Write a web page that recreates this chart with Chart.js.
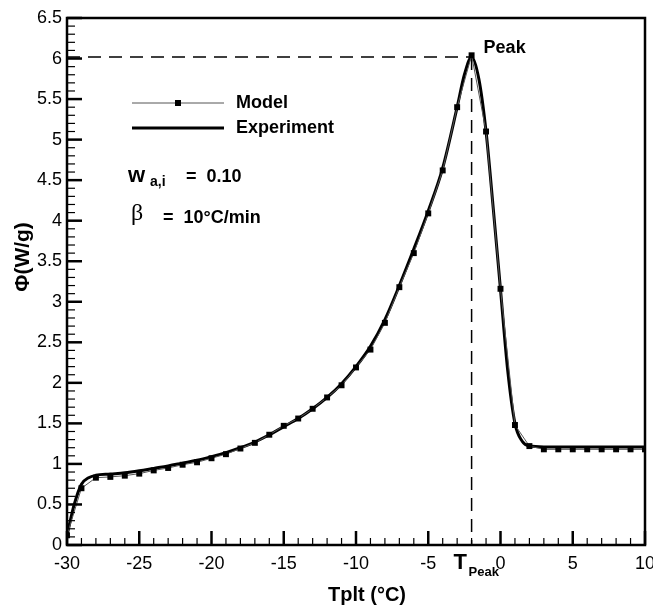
<!DOCTYPE html>
<html>
<head>
<meta charset="utf-8">
<script src="https://cdn.jsdelivr.net/npm/chart.js@4"></script>
<style>
  body { margin: 0; background: #fff; }
  #wrap { width: 653px; height: 606px; }
</style>
</head>
<body>
<div id="wrap"><canvas id="chart" width="653" height="606"></canvas></div>
<script>
// model points, one per degree (squares)
const modelT = [-30, -29, -28, -27, -26, -25, -24, -23, -22, -21, -20, -19, -18, -17, -16, -15, -14, -13, -12, -11, -10, -9, -8, -7, -6, -5, -4, -3, -2, -1, 0, 1, 2, 3, 4, 5, 6, 7, 8, 9, 10];
const modelPhi = [0.12, 0.70, 0.83, 0.84, 0.855, 0.88, 0.92, 0.95, 0.99, 1.02, 1.07, 1.12, 1.19, 1.26, 1.36, 1.47, 1.56, 1.68, 1.82, 1.97, 2.19, 2.41, 2.74, 3.18, 3.6, 4.09, 4.62, 5.40, 6.04, 5.10, 3.16, 1.48, 1.22, 1.18, 1.18, 1.18, 1.18, 1.18, 1.18, 1.18, 1.18];

// experiment curve
const expT = [-30, -29.5, -29, -28.5, -28, -27, -26, -25, -24, -23, -22, -21, -20, -19, -18, -17, -16, -15, -14, -13, -12, -11, -10, -9, -8, -7, -6, -5, -4, -3, -2.5, -2, -1.5, -1, -0.5, 0, 0.5, 1, 1.5, 2, 3, 4, 5, 6, 7, 8, 9, 10];
const expPhi = [0.12, 0.5, 0.75, 0.83, 0.86, 0.875, 0.89, 0.915, 0.945, 0.975, 1.01, 1.045, 1.09, 1.14, 1.2, 1.27, 1.36, 1.46, 1.56, 1.68, 1.82, 1.99, 2.2, 2.45, 2.78, 3.2, 3.65, 4.12, 4.65, 5.4, 5.8, 6.02, 5.75, 5.1, 4.15, 3.15, 2.15, 1.5, 1.28, 1.22, 1.21, 1.21, 1.21, 1.21, 1.21, 1.21, 1.21, 1.21];

const peakT = -2;
const peakPhi = 6.02;

const xTicks = [-30, -25, -20, -15, -10, -5, 0, 5, 10];
const yTicks = [0, 0.5, 1, 1.5, 2, 2.5, 3, 3.5, 4, 4.5, 5, 5.5, 6, 6.5];

const modelData = modelT.map((t, i) => ({x: t, y: modelPhi[i]}));
const expData = expT.map((t, i) => ({x: t, y: expPhi[i]}));

const FONT = '"Liberation Sans", Arial, Helvetica, sans-serif';

// inward ticks, frame and texts
const decor = {
  id: 'decor',
  afterDatasetsDraw(chart) {
    const c = chart.ctx;
    const a = chart.chartArea;
    const xs = chart.scales.x, ys = chart.scales.y;
    c.save();
    c.strokeStyle = '#000';
    // x ticks
    for (let t = -30; t <= 10; t++) {
      const px = xs.getPixelForValue(t);
      const major = xTicks.includes(t);
      c.lineWidth = major ? 2.5 : 1.2;
      c.beginPath();
      c.moveTo(px, a.bottom);
      c.lineTo(px, a.bottom - (major ? 14 : 7));
      c.stroke();
    }
    // y ticks
    for (let k = 0; k <= 65; k++) {
      const v = k / 10;
      const py = ys.getPixelForValue(v);
      const major = k % 5 === 0;
      c.lineWidth = major ? 2.5 : 1.2;
      c.beginPath();
      c.moveTo(a.left, py);
      c.lineTo(a.left + (major ? 15 : 8), py);
      c.stroke();
    }
    // frame
    c.lineWidth = 2.5;
    c.strokeRect(a.left, a.top, a.right - a.left, a.bottom - a.top);

    // legend
    c.lineWidth = 1;
    c.strokeStyle = '#555';
    c.beginPath(); c.moveTo(132, 103); c.lineTo(224, 103); c.stroke();
    c.fillStyle = '#000';
    c.fillRect(175, 100, 6, 6);
    c.lineWidth = 3;
    c.strokeStyle = '#000';
    c.beginPath(); c.moveTo(132, 128); c.lineTo(224, 128); c.stroke();

    c.fillStyle = '#000';
    c.textBaseline = 'middle';
    c.textAlign = 'left';
    c.font = 'bold 18px ' + FONT;
    c.fillText('Model', 236, 103);
    c.fillText('Experiment', 236, 128);

    // w_a,i = 0.10
    c.font = 'bold 22px ' + FONT;
    c.fillText('w', 128, 176);
    c.font = 'bold 14px ' + FONT;
    c.fillText('a,i', 150, 182);
    c.font = 'bold 18px ' + FONT;
    c.fillText('=  0.10', 186, 177);
    // beta
    c.font = '24px "Liberation Serif", "Times New Roman", serif';
    c.fillText('\u03b2', 131, 214);
    c.font = 'bold 18px ' + FONT;
    c.fillText('=  10\u00b0C/min', 163, 218);

    // Peak label
    c.font = 'bold 18px ' + FONT;
    c.fillText('Peak', xs.getPixelForValue(peakT) + 12, ys.getPixelForValue(peakPhi) - 9);

    // T_Peak under axis
    const tp = xs.getPixelForValue(peakT);
    c.font = 'bold 22px ' + FONT;
    c.textAlign = 'left';
    c.fillText('T', tp - 18, 563);
    c.font = 'bold 13px ' + FONT;
    c.fillText('Peak', tp - 3, 572);

    // axis titles
    c.textAlign = 'center';
    c.font = 'bold 20px ' + FONT;
    c.fillText('Tplt (\u00b0C)', 367, 595);
    c.translate(23, 257);
    c.rotate(-Math.PI / 2);
    c.font = 'bold 21px ' + FONT;
    c.fillText('\u03a6(W/g)', 0, 0);
    c.restore();
  }
};

new Chart(document.getElementById('chart'), {
  type: 'scatter',
  data: {
    datasets: [
      {
        label: 'Model',
        data: modelData,
        showLine: true,
        borderColor: '#555',
        borderWidth: 1,
        pointStyle: 'rect',
        pointRadius: 4.2,
        pointBackgroundColor: '#000',
        pointBorderColor: '#000',
        pointBorderWidth: 0,
        tension: 0,
        order: 1
      },
      {
        label: 'Experiment',
        data: expData,
        showLine: true,
        borderColor: '#000',
        borderWidth: 3,
        pointRadius: 0,
        cubicInterpolationMode: 'monotone',
        order: 2
      },
      {
        label: 'peakH',
        data: [{x: -30, y: peakPhi}, {x: peakT, y: peakPhi}],
        showLine: true,
        borderColor: '#000',
        borderWidth: 1.5,
        borderDash: [13, 8],
        pointRadius: 0,
        order: 3
      },
      {
        label: 'peakV',
        data: [{x: peakT, y: peakPhi}, {x: peakT, y: 0}],
        showLine: true,
        borderColor: '#000',
        borderWidth: 1.5,
        borderDash: [13, 8],
        pointRadius: 0,
        order: 3
      }
    ]
  },
  options: {
    responsive: false,
    animation: false,
    devicePixelRatio: 1,
    layout: { padding: { left: 0, right: 8, top: 18, bottom: 0 } },
    plugins: { legend: { display: false }, tooltip: { enabled: false } },
    scales: {
      x: {
        type: 'linear',
        min: -30, max: 10,
        afterFit(s) { s.height = 61; s.paddingLeft = 0; s.paddingRight = 0; },
        afterBuildTicks(s) { s.ticks = xTicks.map(v => ({value: v})); },
        grid: { display: false, drawTicks: false },
        border: { display: false },
        ticks: { color: '#000', font: { family: FONT, size: 18 }, padding: 8, maxRotation: 0 }
      },
      y: {
        type: 'linear',
        min: 0, max: 6.5,
        afterFit(s) { s.width = 67; s.paddingTop = 0; s.paddingBottom = 0; },
        afterBuildTicks(s) { s.ticks = yTicks.map(v => ({value: v})); },
        grid: { display: false, drawTicks: false },
        border: { display: false },
        ticks: { color: '#000', font: { family: FONT, size: 18 }, padding: 5, callback: v => String(v) }
      }
    }
  },
  plugins: [decor]
});
</script>
</body>
</html>
